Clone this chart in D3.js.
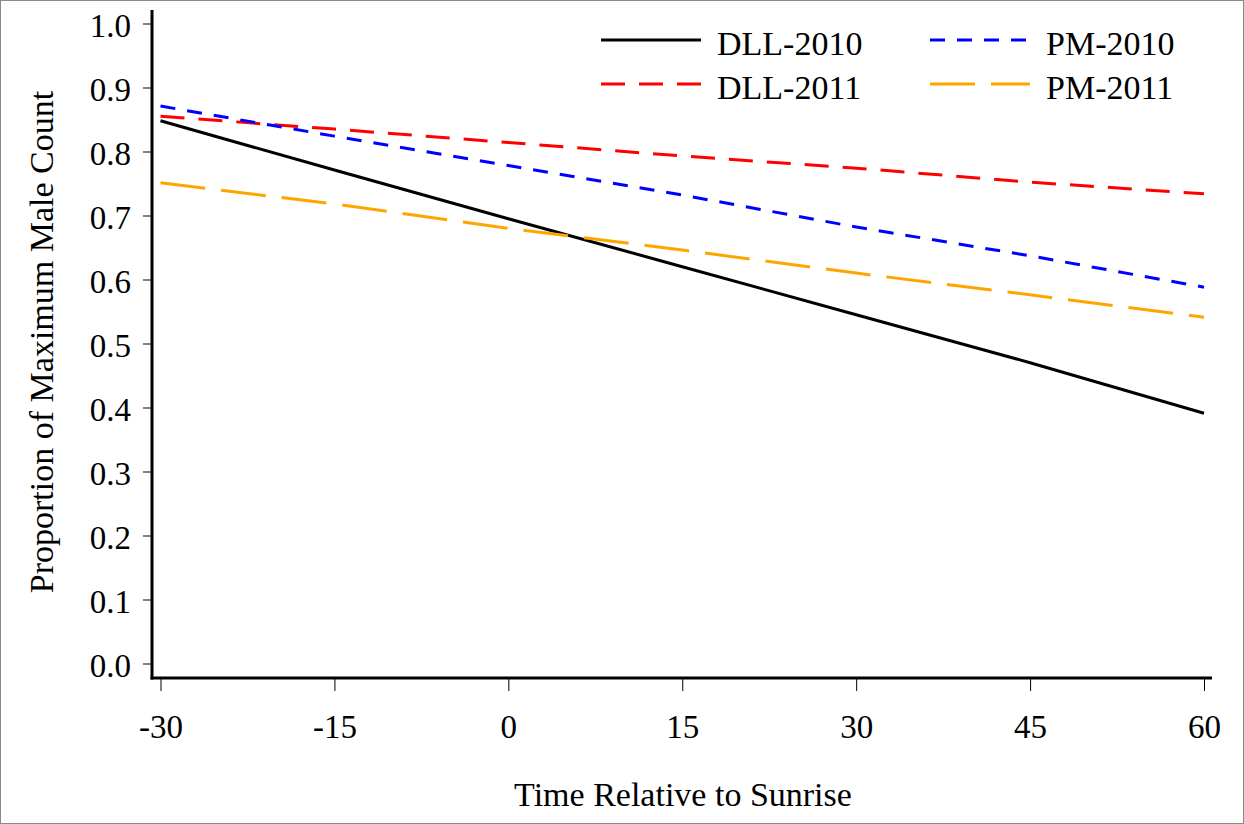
<!DOCTYPE html>
<html>
<head>
<meta charset="utf-8">
<script src="https://cdn.jsdelivr.net/npm/d3@7"></script>
<style>
  body { margin: 0; background: #fff; }
  text { font-family: "Liberation Serif", "Times New Roman", serif; fill: #000; }
</style>
</head>
<body>
<script>
const width = 1244, height = 824

// data
const times = [-30, -15, 0, 15, 30, 45, 60]
const dll2010 = [0.848, 0.771, 0.695, 0.620, 0.545, 0.470, 0.391]
const dll2011 = [0.855, 0.835, 0.814, 0.793, 0.774, 0.752, 0.734]
const pm2010 = [0.871, 0.824, 0.778, 0.732, 0.682, 0.637, 0.588]
const pm2011 = [0.751, 0.718, 0.680, 0.646, 0.610, 0.576, 0.541]
const seriesNames = ["DLL-2010", "DLL-2011", "PM-2010", "PM-2011"]
const xTicks = [-30, -15, 0, 15, 30, 45, 60]
const yTicks = [0, 0.1, 0.2, 0.3, 0.4, 0.5, 0.6, 0.7, 0.8, 0.9, 1.0]

const series = [
    { name: seriesNames[0], values: dll2010, color: "#000000", dash: null },
    { name: seriesNames[1], values: dll2011, color: "#ff0000", dash: "24,14" },
    { name: seriesNames[2], values: pm2010, color: "#0000ff", dash: "15,12" },
    { name: seriesNames[3], values: pm2011, color: "#ffa500", dash: "45,16" }
]

let svg = d3.select("body")
    .append("svg")
    .attr("width", width)
    .attr("height", height)

// outer frame
svg.append("rect")
    .attr("x", 0.5).attr("y", 0.5)
    .attr("width", width - 1).attr("height", height - 1)
    .attr("fill", "none")
    .attr("stroke", "#8a8a8a")

const x = d3.scaleLinear().domain([-30, 60]).range([160.5, 1204])
const y = d3.scaleLinear().domain([0, 1]).range([663.5, 23.5])

const axisLeftX = 152, axisBottomY = 678

// y axis
let gy = svg.append("g")
    .attr("transform", `translate(${axisLeftX},0)`)
    .call(d3.axisLeft(y).tickValues(yTicks).tickSize(9).tickPadding(12).tickFormat(d3.format(".1f")))
gy.select(".domain").remove()
gy.selectAll(".tick line").attr("stroke", "#000").attr("stroke-width", 1)
gy.selectAll(".tick text")
    .attr("font-size", 33)
    .attr("dy", "0.4em")
    .style("font-family", "'Liberation Serif', serif")

// x axis, plain hyphen for negatives
let gx = svg.append("g")
    .attr("transform", `translate(0,${axisBottomY})`)
    .call(d3.axisBottom(x).tickValues(xTicks).tickSize(13).tickPadding(47).tickFormat((d) => String(d)))
gx.select(".domain").remove()
gx.selectAll(".tick line").attr("stroke", "#000").attr("stroke-width", 1)
gx.selectAll(".tick text")
    .attr("font-size", 33)
    .attr("dy", "0")
    .style("font-family", "'Liberation Serif', serif")

// axis lines
svg.append("line")
    .attr("x1", axisLeftX).attr("x2", axisLeftX)
    .attr("y1", 10).attr("y2", axisBottomY + 1.5)
    .attr("stroke", "#000").attr("stroke-width", 3)
svg.append("line")
    .attr("x1", axisLeftX - 1.5).attr("x2", 1212)
    .attr("y1", axisBottomY).attr("y2", axisBottomY)
    .attr("stroke", "#000").attr("stroke-width", 3)

// lines
const line = d3.line()
    .x((d, i) => x(times[i]))
    .y((d) => y(d))

svg.append("g")
    .selectAll("path")
    .data(series)
    .join("path")
    .attr("d", (d) => line(d.values))
    .attr("fill", "none")
    .attr("stroke", (d) => d.color)
    .attr("stroke-width", 3)
    .attr("stroke-dasharray", (d) => d.dash)

// legend
const legendPos = [
    { x: 601, y: 40 },
    { x: 601, y: 84 },
    { x: 930, y: 40 },
    { x: 930, y: 84 }
]
let legend = svg.append("g")
    .selectAll("g")
    .data(series)
    .join("g")
    .attr("transform", (d, i) => `translate(${legendPos[i].x},${legendPos[i].y})`)
legend.append("line")
    .attr("x1", 0).attr("x2", 100)
    .attr("stroke", (d) => d.color)
    .attr("stroke-width", 3)
    .attr("stroke-dasharray", (d) => d.dash)
legend.append("text")
    .attr("x", 116)
    .attr("y", 15)
    .attr("font-size", 34)
    .text((d) => d.name)

// axis titles
svg.append("text")
    .attr("x", 683)
    .attr("y", 806)
    .attr("text-anchor", "middle")
    .attr("font-size", 34)
    .text("Time Relative to Sunrise")

svg.append("text")
    .attr("transform", "translate(53,342) rotate(-90)")
    .attr("text-anchor", "middle")
    .attr("font-size", 34)
    .text("Proportion of Maximum Male Count")
</script>
</body>
</html>
